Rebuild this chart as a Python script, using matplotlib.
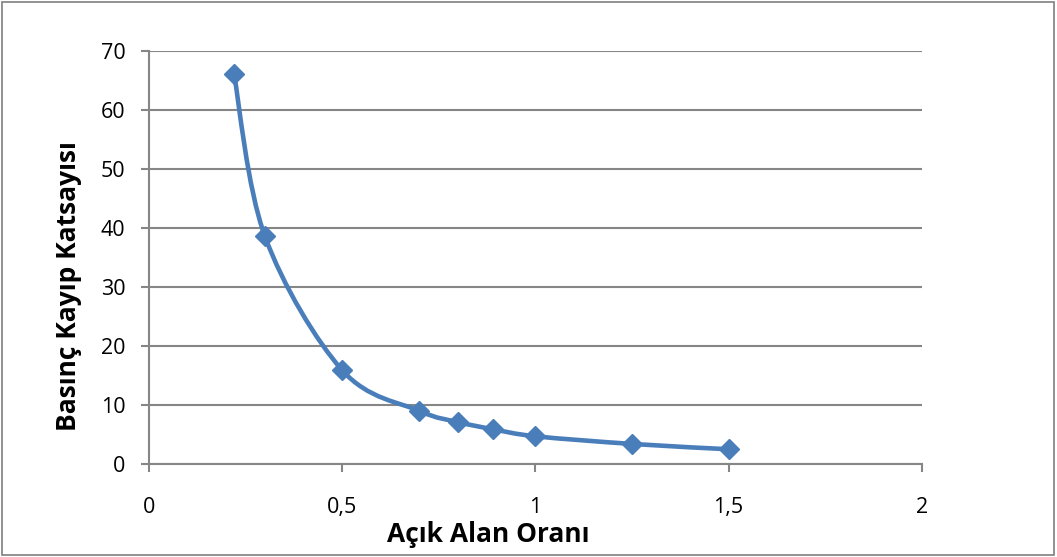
import matplotlib.pyplot as plt
import numpy as np
from matplotlib.path import Path
from matplotlib.patches import PathPatch, Rectangle

plt.rcParams['font.family'] = ['Open Sans', 'DejaVu Sans']

# Açık alan oranı vs. basınç kayıp katsayısı
acik_alan = [0.22, 0.30, 0.50, 0.70, 0.80, 0.89, 1.00, 1.25, 1.50]
kayip_katsayisi = [66.1, 38.6, 15.9, 9.0, 7.1, 5.9, 4.7, 3.4, 2.5]

x_ticks = [0, 0.5, 1, 1.5, 2]
x_tick_labels = ['0', '0,5', '1', '1,5', '2']
y_ticks = [0, 10, 20, 30, 40, 50, 60, 70]

blue = '#4A7EBB'
grey = '#868686'


def smooth_path(xs, ys, tension=1 / 6):
    # Catmull-Rom style cubic Bezier through the points (like Excel's smoothed line)
    pts = np.column_stack([xs, ys])
    n = len(pts)
    verts = [pts[0]]
    codes = [Path.MOVETO]
    for i in range(n - 1):
        p0 = pts[i - 1] if i > 0 else pts[i]
        p1 = pts[i]
        p2 = pts[i + 1]
        p3 = pts[i + 2] if i + 2 < n else pts[i + 1]
        c1 = p1 + (p2 - p0) * tension
        c2 = p2 - (p3 - p1) * tension
        verts += [c1, c2, p2]
        codes += [Path.CURVE4] * 3
    return Path(verts, codes)


fig = plt.figure(figsize=(10.57, 5.57), dpi=100)
ax = fig.add_axes([0.141, 0.167, 0.731, 0.741])

fig.patches.append(Rectangle((0.002, 0.003), 0.995, 0.993, transform=fig.transFigure,
                             fill=False, edgecolor='#7f7f7f', linewidth=1.2))

ax.add_patch(PathPatch(smooth_path(acik_alan, kayip_katsayisi), fill=False,
                       edgecolor=blue, linewidth=3.3, capstyle='round', zorder=3))
ax.plot(acik_alan, kayip_katsayisi, linestyle='none', marker='D', markersize=10.5,
        color=blue, markeredgecolor=blue, zorder=4)

ax.set_xlim(0, 2)
ax.set_ylim(0, 70)
ax.set_xticks(x_ticks)
ax.set_xticklabels(x_tick_labels)
ax.set_yticks(y_ticks)
ax.grid(axis='y', color=grey, linewidth=1.5)
ax.set_axisbelow(True)

for side in ['top', 'right']:
    ax.spines[side].set_visible(False)
for side in ['left', 'bottom']:
    ax.spines[side].set_color(grey)
    ax.spines[side].set_linewidth(1.5)

ax.tick_params(axis='x', direction='out', length=6, width=1.5, color=grey,
               labelsize=15.5, pad=18)
ax.tick_params(axis='y', direction='out', length=6, width=1.5, color=grey,
               labelsize=15.5, pad=11)

ax.set_xlabel('Açık Alan Oranı', fontsize=19, fontweight='bold')
ax.set_ylabel('Basınç Kayıp Katsayısı', fontsize=19, fontweight='bold')
ax.xaxis.set_label_coords(0.4386, -0.138)
ax.yaxis.set_label_coords(-0.087, 0.43)

fig.savefig('out.png', dpi=100)
